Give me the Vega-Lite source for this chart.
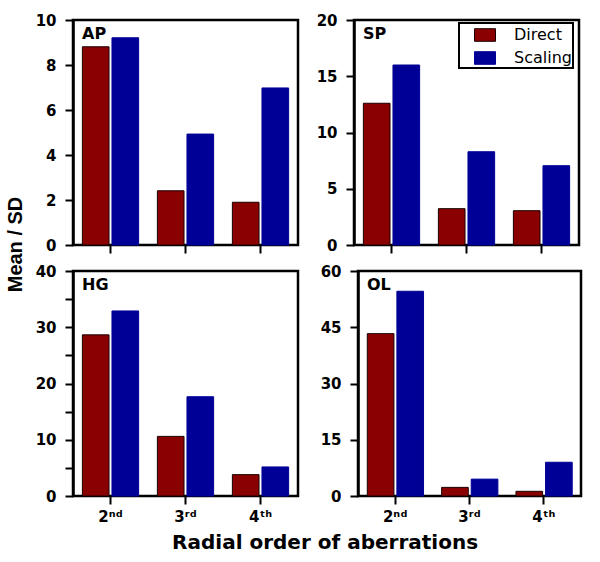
{
  "$schema": "https://vega.github.io/schema/vega-lite/v6.json",
  "background": "white",
  "padding": {"left": 5, "top": 11, "right": 5, "bottom": 5},
  "config": {
    "font": "DejaVu Sans",
    "view": {"stroke": "black", "strokeWidth": 2.5},
    "axis": {"grid": false, "domainColor": "black", "domainWidth": 2.5, "tickColor": "black", "tickWidth": 2, "tickSize": 8, "labelFont": "DejaVu Sans", "labelFontWeight": "bold", "labelFontSize": 15, "labelColor": "black", "labelPadding": 9, "title": null},
    "axisX": {"domain": false, "labelAngle": 0, "labelFontSize": 15, "labelPadding": 5},
    "title": {"font": "DejaVu Sans", "fontWeight": "bold", "color": "black"},
    "legend": {"orient": "none", "legendX": 386, "legendY": 3, "strokeColor": "black", "strokeWidth": 2, "padding": 1, "title": null, "labelFont": "DejaVu Sans", "labelFontSize": 16, "labelColor": "black", "symbolType": "M-1,-0.6H1V0.6H-1Z", "symbolSize": 441, "rowPadding": 3, "labelOffset": 18, "symbolOffset": 14, "symbolStrokeWidth": 1}
  },
  "data": {"values": [
    {"panel": "AP", "order": "2nd", "method": "Direct", "value": 8.81},
    {"panel": "AP", "order": "2nd", "method": "Scaling", "value": 9.21},
    {"panel": "AP", "order": "3rd", "method": "Direct", "value": 2.41},
    {"panel": "AP", "order": "3rd", "method": "Scaling", "value": 4.93},
    {"panel": "AP", "order": "4th", "method": "Direct", "value": 1.9},
    {"panel": "AP", "order": "4th", "method": "Scaling", "value": 6.98},
    {"panel": "SP", "order": "2nd", "method": "Direct", "value": 12.6},
    {"panel": "SP", "order": "2nd", "method": "Scaling", "value": 16.0},
    {"panel": "SP", "order": "3rd", "method": "Direct", "value": 3.23},
    {"panel": "SP", "order": "3rd", "method": "Scaling", "value": 8.29},
    {"panel": "SP", "order": "4th", "method": "Direct", "value": 3.05},
    {"panel": "SP", "order": "4th", "method": "Scaling", "value": 7.05},
    {"panel": "HG", "order": "2nd", "method": "Direct", "value": 28.65},
    {"panel": "HG", "order": "2nd", "method": "Scaling", "value": 32.9},
    {"panel": "HG", "order": "3rd", "method": "Direct", "value": 10.6},
    {"panel": "HG", "order": "3rd", "method": "Scaling", "value": 17.65},
    {"panel": "HG", "order": "4th", "method": "Direct", "value": 3.8},
    {"panel": "HG", "order": "4th", "method": "Scaling", "value": 5.17},
    {"panel": "OL", "order": "2nd", "method": "Direct", "value": 43.3},
    {"panel": "OL", "order": "2nd", "method": "Scaling", "value": 54.6},
    {"panel": "OL", "order": "3rd", "method": "Direct", "value": 2.3},
    {"panel": "OL", "order": "3rd", "method": "Scaling", "value": 4.5},
    {"panel": "OL", "order": "4th", "method": "Direct", "value": 1.25},
    {"panel": "OL", "order": "4th", "method": "Scaling", "value": 9.0}
  ]},
  "title": {"text": "Mean / SD", "orient": "left", "font": "Liberation Sans", "fontSize": 20, "anchor": "middle", "offset": 8, "dx": 38},
  "spacing": 6,
  "vconcat": [
    {
      "bounds": "flush",
      "spacing": 56,
      "hconcat": [
        {
          "width": 225, "height": 225,
          "title": {"text": "AP", "anchor": "start", "frame": "group", "orient": "top", "offset": -29, "dx": 9, "fontSize": 16},
          "transform": [{"filter": "datum.panel === 'AP'"}],
          "mark": {"type": "bar", "strokeWidth": 1},
          "encoding": {
            "x": {"field": "order", "type": "nominal", "scale": {"paddingInner": 0.25, "paddingOuter": 0.125}, "axis": {"labels": false}},
            "xOffset": {"field": "method", "type": "nominal", "scale": {"paddingInner": 0.1}},
            "y": {"field": "value", "type": "quantitative", "scale": {"domain": [0, 10], "nice": false}, "axis": {"values": [0, 2, 4, 6, 8, 10]}},
            "color": {"field": "method", "type": "nominal", "scale": {"domain": ["Direct", "Scaling"], "range": ["#8a0000", "#000096"]}},
            "stroke": {"field": "method", "type": "nominal", "scale": {"domain": ["Direct", "Scaling"], "range": ["#1a0000", "#000096"]}}
          }
        },
        {
          "width": 225, "height": 225,
          "title": {"text": "SP", "anchor": "start", "frame": "group", "orient": "top", "offset": -29, "dx": 9, "fontSize": 16},
          "transform": [{"filter": "datum.panel === 'SP'"}],
          "mark": {"type": "bar", "strokeWidth": 1},
          "encoding": {
            "x": {"field": "order", "type": "nominal", "scale": {"paddingInner": 0.25, "paddingOuter": 0.125}, "axis": {"labels": false}},
            "xOffset": {"field": "method", "type": "nominal", "scale": {"paddingInner": 0.1}},
            "y": {"field": "value", "type": "quantitative", "scale": {"domain": [0, 20], "nice": false}, "axis": {"values": [0, 5, 10, 15, 20]}},
            "color": {"field": "method", "type": "nominal"},
            "stroke": {"field": "method", "type": "nominal"}
          }
        }
      ]
    },
    {
      "bounds": "flush",
      "spacing": 60,
      "title": {"text": "Radial order of aberrations", "orient": "bottom", "fontSize": 20, "anchor": "middle", "offset": 8, "dx": 17},
      "hconcat": [
        {
          "width": 225, "height": 225,
          "title": {"text": "HG", "anchor": "start", "frame": "group", "orient": "top", "offset": -29, "dx": 9, "fontSize": 16},
          "transform": [{"filter": "datum.panel === 'HG'"}],
          "mark": {"type": "bar", "strokeWidth": 1},
          "encoding": {
            "x": {"field": "order", "type": "nominal", "scale": {"paddingInner": 0.25, "paddingOuter": 0.125}, "axis": {"labelExpr": "datum.value === '2nd' ? '2ⁿᵈ' : datum.value === '3rd' ? '3ʳᵈ' : '4ᵗʰ'"}},
            "xOffset": {"field": "method", "type": "nominal", "scale": {"paddingInner": 0.1}},
            "y": {"field": "value", "type": "quantitative", "scale": {"domain": [0, 40], "nice": false}, "axis": {"values": [0, 5, 10, 15, 20, 25, 30, 35, 40], "labelExpr": "datum.value % 10 === 0 ? datum.label : ''"}},
            "color": {"field": "method", "type": "nominal"},
            "stroke": {"field": "method", "type": "nominal"}
          }
        },
        {
          "width": 223, "height": 225,
          "title": {"text": "OL", "anchor": "start", "frame": "group", "orient": "top", "offset": -29, "dx": 9, "fontSize": 16},
          "transform": [{"filter": "datum.panel === 'OL'"}],
          "mark": {"type": "bar", "strokeWidth": 1},
          "encoding": {
            "x": {"field": "order", "type": "nominal", "scale": {"paddingInner": 0.25, "paddingOuter": 0.125}, "axis": {"labelExpr": "datum.value === '2nd' ? '2ⁿᵈ' : datum.value === '3rd' ? '3ʳᵈ' : '4ᵗʰ'"}},
            "xOffset": {"field": "method", "type": "nominal", "scale": {"paddingInner": 0.1}},
            "y": {"field": "value", "type": "quantitative", "scale": {"domain": [0, 60], "nice": false}, "axis": {"values": [0, 15, 30, 45, 60]}},
            "color": {"field": "method", "type": "nominal"},
            "stroke": {"field": "method", "type": "nominal"}
          }
        }
      ]
    }
  ],
  "resolve": {"scale": {"x": "independent", "y": "independent", "xOffset": "independent"}}
}
